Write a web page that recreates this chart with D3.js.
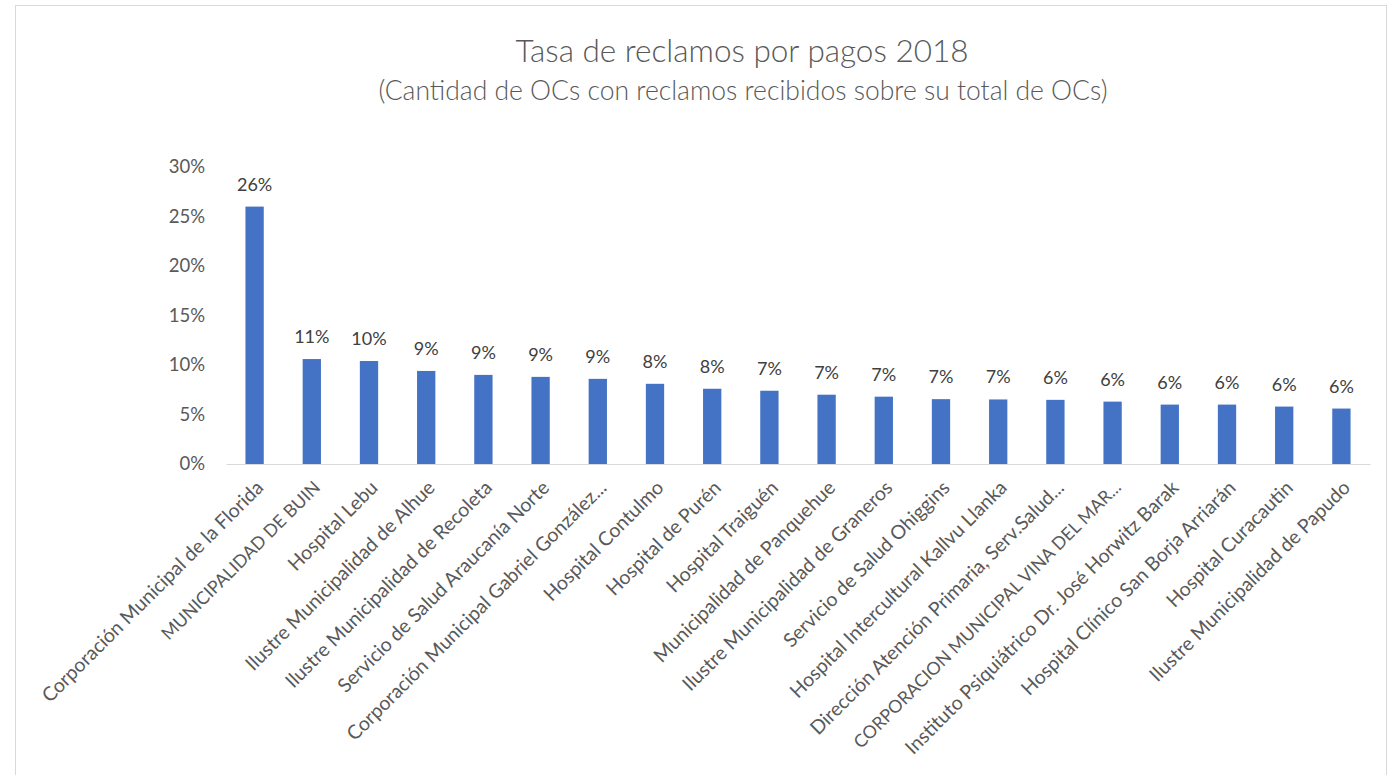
<!DOCTYPE html>
<html>
<head>
<meta charset="utf-8">
<script src="https://cdn.jsdelivr.net/npm/d3@7"></script>
<style>
  body { margin: 0; background: #fff; }
  text { font-family: Lato, "Open Sans", sans-serif; }
</style>
</head>
<body>
<svg id="chart" width="1396" height="775"></svg>
<script>
// data
var entidades = [
  "Corporación Municipal de la Florida",
  "MUNICIPALIDAD DE BUIN",
  "Hospital Lebu",
  "Ilustre Municipalidad de Alhue",
  "Ilustre Municipalidad de Recoleta",
  "Servicio de Salud Araucanía Norte",
  "Corporación Municipal Gabriel González...",
  "Hospital Contulmo",
  "Hospital de Purén",
  "Hospital Traiguén",
  "Municipalidad de Panquehue",
  "Ilustre Municipalidad de Graneros",
  "Servicio de Salud Ohiggins",
  "Hospital Intercultural Kallvu Llanka",
  "Dirección Atención Primaria, Serv.Salud...",
  "CORPORACION MUNICIPAL VINA DEL MAR...",
  "Instituto Psiquiátrico Dr. José Horwitz Barak",
  "Hospital Clínico San Borja Arriarán",
  "Hospital Curacautin",
  "Ilustre Municipalidad de Papudo"
];
var tasas = [0.260, 0.106, 0.104, 0.094, 0.090, 0.088, 0.086, 0.081, 0.076, 0.074,
             0.070, 0.068, 0.0655, 0.0652, 0.0648, 0.063, 0.060, 0.060, 0.058, 0.056];
var yTicks = [0, 0.05, 0.10, 0.15, 0.20, 0.25, 0.30];
var titulo = "Tasa de reclamos por pagos 2018";
var subtitulo = "(Cantidad de OCs con reclamos recibidos sobre su total de OCs)";

var data = entidades.map(function (d, i) {
  return { name: d, value: tasas[i] };
});

var svg = d3.select("#chart");

// chart frame
svg.append("rect")
  .attr("x", 15.5).attr("y", 5.5)
  .attr("width", 1371).attr("height", 800)
  .attr("fill", "#fff")
  .attr("stroke", "#d9d9d9");

var x = d3.scaleBand()
  .domain(entidades)
  .range([226, 1370])
  .paddingInner(0.68)
  .paddingOuter(0.34);

var y = d3.scaleLinear()
  .domain([0, 0.30])
  .range([464, 167]);

var pct = d3.format(".0%");

// titles
svg.append("text")
  .attr("x", 742).attr("y", 62)
  .attr("text-anchor", "middle")
  .attr("font-size", 31.5)
  .attr("font-weight", 300)
  .attr("fill", "#595959")
  .text(titulo);

svg.append("text")
  .attr("x", 743).attr("y", 100)
  .attr("text-anchor", "middle")
  .attr("font-size", 26.5)
  .attr("font-weight", 300)
  .attr("fill", "#595959")
  .text(subtitulo);

// y axis
var yAxis = svg.append("g")
  .attr("transform", "translate(226,0)")
  .call(d3.axisLeft(y).tickValues(yTicks).tickFormat(pct).tickSize(0).tickPadding(21));
yAxis.select(".domain").remove();
yAxis.selectAll("text")
  .attr("font-family", "Lato, sans-serif")
  .attr("font-size", 18.5)
  .attr("fill", "#595959");

// bars
svg.append("g")
  .selectAll("rect")
  .data(data)
  .enter()
  .append("rect")
  .attr("x", function (d) { return x(d.name); })
  .attr("y", function (d) { return y(d.value); })
  .attr("width", x.bandwidth())
  .attr("height", function (d) { return y(0) - y(d.value); })
  .attr("fill", "#4472c4");

// value labels
svg.append("g")
  .selectAll("text")
  .data(data)
  .enter()
  .append("text")
  .attr("x", function (d) { return x(d.name) + x.bandwidth() / 2; })
  .attr("y", function (d) { return y(d.value) - 16; })
  .attr("text-anchor", "middle")
  .attr("font-size", 18)
  .attr("fill", "#404040")
  .text(function (d) { return pct(d.value); });

// x axis
var xAxis = svg.append("g")
  .attr("transform", "translate(0,464)")
  .call(d3.axisBottom(x).tickSize(0).tickSizeOuter(0));
xAxis.select(".domain").attr("stroke", "#d9d9d9");
xAxis.selectAll("text")
  .attr("font-family", "Lato, sans-serif")
  .attr("font-size", function (d) {
    // Lato capitals run wider than the original font
    return d === d.toUpperCase() ? 17.8 : 19.5;
  })
  .attr("fill", "#595959")
  .attr("text-anchor", "end")
  .attr("dy", "0.35em")
  .attr("transform", "translate(3,18) rotate(-45)");
</script>
</body>
</html>
